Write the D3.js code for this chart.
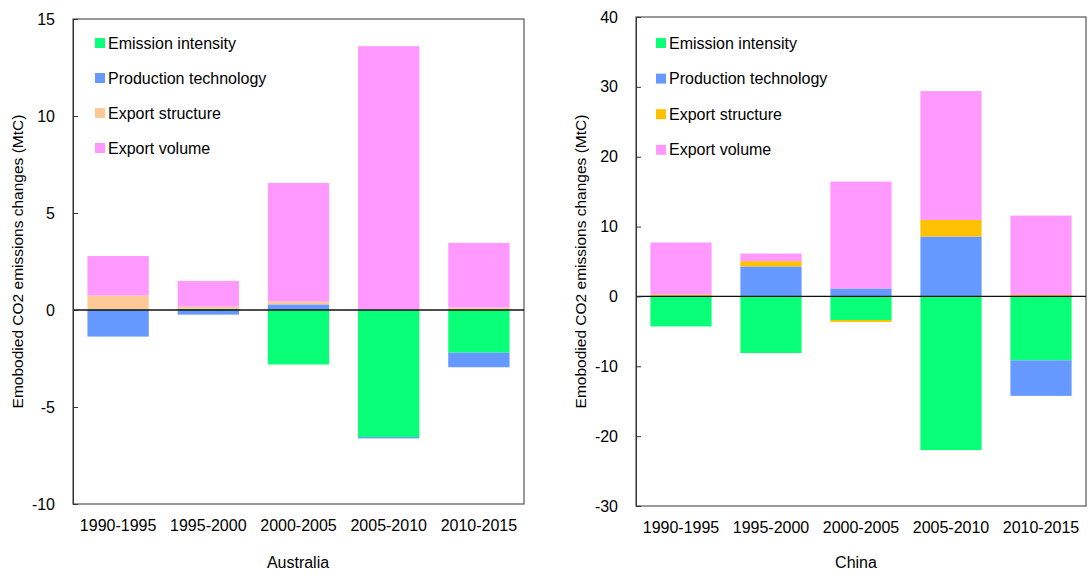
<!DOCTYPE html>
<html>
<head>
<meta charset="utf-8">
<script src="https://cdn.jsdelivr.net/npm/d3@7"></script>
<style>
  body { margin: 0; background: #fff; }
  svg { font-family: Arial, "Liberation Sans", sans-serif; }
</style>
</head>
<body>
<svg id="chart" width="1089" height="575"></svg>
<script>
// periods on the x axis
const periods = ["1990-1995", "1995-2000", "2000-2005", "2005-2010", "2010-2015"];
const factors = ["Emission intensity", "Production technology", "Export structure", "Export volume"];

// Australia (MtC)
const ausEmission   = [0.03, 0.05, -2.81, -6.55, -2.20];
const ausProduction = [-1.37, -0.24, 0.29, -0.07, -0.75];
const ausStructure  = [0.72, 0.12, 0.15, 0.02, 0.13];
const ausVolume     = [2.03, 1.33, 6.11, 13.58, 3.33];
const ausTicks = [-10, -5, 0, 5, 10, 15];

// China (MtC)
const chnEmission   = [-4.30, -8.10, -3.38, -22.0, -9.14];
const chnProduction = [0.05, 4.29, 1.14, 8.57, -5.10];
const chnStructure  = [0.20, 0.76, -0.29, 2.38, 0.20];
const chnVolume     = [7.47, 1.09, 15.30, 18.45, 11.37];
const chnTicks = [-30, -20, -10, 0, 10, 20, 30, 40];

const svg = d3.select("#chart");

function drawPanel(opt) {
  const { x0, x1, y0, y1, domain, ticks, series, colors, country, legendX, legendY, legendStep, titleX } = opt;

  const rows = periods.map((p, i) => {
    const r = { period: p };
    factors.forEach((f, j) => { r[f] = series[j][i]; });
    return r;
  });

  const x = d3.scaleBand().domain(periods).range([x0, x1]).paddingInner(0.32).paddingOuter(0.16);
  const y = d3.scaleLinear().domain(domain).range([y1, y0]);
  const color = d3.scaleOrdinal().domain(factors).range(colors);

  const stack = d3.stack().keys(factors).offset(d3.stackOffsetDiverging);
  const layers = stack(rows);

  const g = svg.append("g");

  // frame
  g.append("rect")
    .attr("x", x0).attr("y", y0)
    .attr("width", x1 - x0).attr("height", y1 - y0)
    .attr("fill", "none").attr("stroke", "#555").attr("stroke-width", 1.2);

  // bars
  g.selectAll("g.layer")
    .data(layers)
    .enter()
    .append("g")
    .attr("fill", d => color(d.key))
    .selectAll("rect")
    .data(d => d)
    .enter()
    .append("rect")
    .attr("x", d => x(d.data.period))
    .attr("width", x.bandwidth())
    .attr("y", d => y(Math.max(d[0], d[1])))
    .attr("height", d => Math.abs(y(d[0]) - y(d[1])));

  // zero line
  g.append("line")
    .attr("x1", x0).attr("x2", x1)
    .attr("y1", y(0)).attr("y2", y(0))
    .attr("stroke", "#111").attr("stroke-width", 1.3);

  // y axis with inward ticks
  const yAxis = d3.axisLeft(y).tickValues(ticks).tickSize(-5).tickPadding(18).tickFormat(d => String(d));
  const ya = g.append("g").attr("transform", "translate(" + x0 + ",0)").call(yAxis);
  ya.select(".domain").attr("stroke", "#333");
  ya.selectAll(".tick line").attr("stroke", "#333");
  ya.selectAll("text").attr("font-size", 16).attr("fill", "#000").attr("font-family", "Arial, 'Liberation Sans', sans-serif");

  // x labels
  g.selectAll("text.xl")
    .data(periods)
    .enter()
    .append("text")
    .attr("x", d => x(d) + x.bandwidth() / 2)
    .attr("y", y1 + 27)
    .attr("text-anchor", "middle")
    .attr("font-size", 16)
    .text(d => d);

  // country title
  g.append("text")
    .attr("x", titleX).attr("y", 568)
    .attr("text-anchor", "middle")
    .attr("font-size", 16)
    .text(country);

  // y title
  g.append("text")
    .attr("transform", "translate(" + (x0 - 50) + "," + ((y0 + y1) / 2) + ") rotate(-90)")
    .attr("text-anchor", "middle")
    .attr("font-size", 15.5)
    .text("Emobodied CO2 emissions changes (MtC)");

  // legend
  const lg = g.selectAll("g.leg")
    .data(factors)
    .enter()
    .append("g")
    .attr("transform", (d, i) => "translate(" + legendX + "," + (legendY + i * legendStep) + ")");
  lg.append("rect").attr("x", 0).attr("y", -5).attr("width", 10).attr("height", 10).attr("fill", d => color(d));
  lg.append("text").attr("x", 13).attr("y", 0).attr("dy", "0.35em").attr("font-size", 16).text(d => d);
}

drawPanel({
  x0: 73, x1: 524, y0: 19, y1: 504,
  domain: [-10, 15], ticks: ausTicks,
  series: [ausEmission, ausProduction, ausStructure, ausVolume],
  colors: ["#0AFF78", "#6699FF", "#FFC896", "#FF99FF"],
  country: "Australia", titleX: 298,
  legendX: 95, legendY: 43, legendStep: 35
});

drawPanel({
  x0: 636, x1: 1086, y0: 17, y1: 506,
  domain: [-30, 40], ticks: chnTicks,
  series: [chnEmission, chnProduction, chnStructure, chnVolume],
  colors: ["#0AFF78", "#6699FF", "#FFC000", "#FF99FF"],
  country: "China", titleX: 856,
  legendX: 656, legendY: 43, legendStep: 35.6
});
</script>
</body>
</html>
